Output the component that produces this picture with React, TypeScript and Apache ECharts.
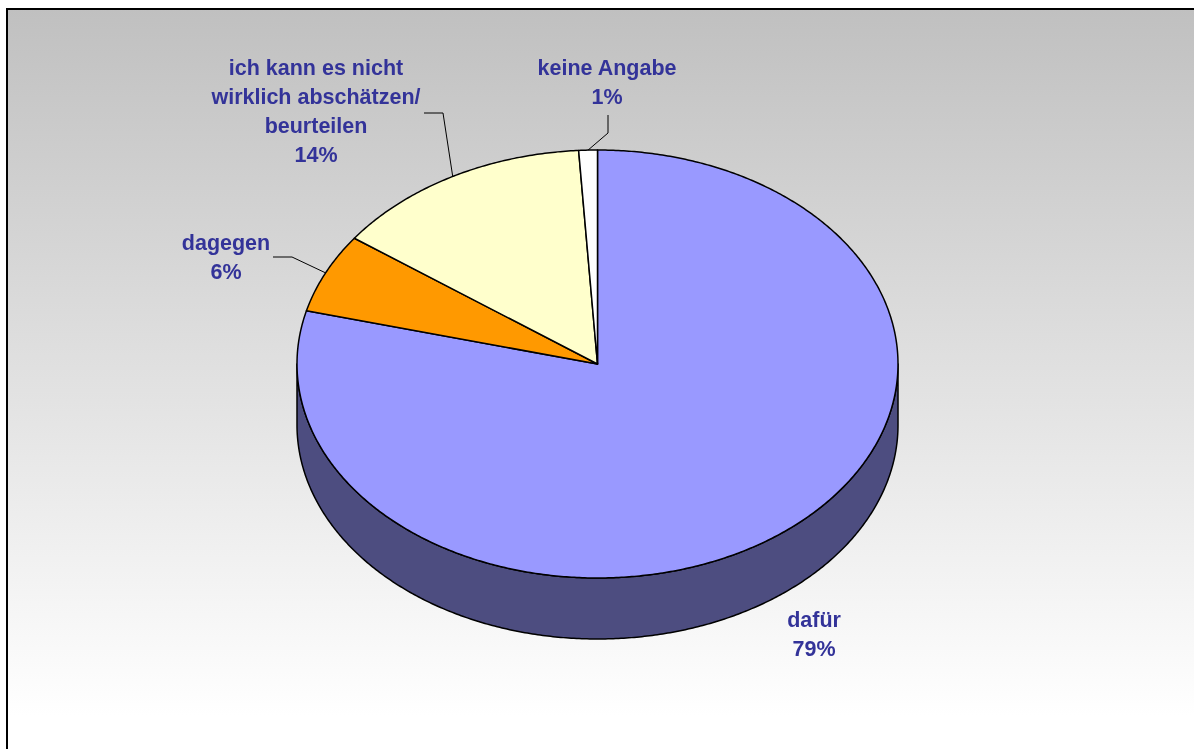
import { useEffect, useRef } from "react";
import * as echarts from "echarts";

// ---- data ----
const categories = [
  "dafür",
  "dagegen",
  "ich kann es nicht\nwirklich abschätzen/\nbeurteilen",
  "keine Angabe",
];
const values = [79, 6, 14, 1];
const topColors = ["#9999FF", "#FF9900", "#FFFFCC", "#FFFFFF"];
const sideColors = ["#4D4D80", "#804D00", "#808066", "#808080"];

// ---- layout (style) ----
const CX = 597.5;
const CY = 364;
const RX = 300.5;
const RY = 214;
const DEPTH = 61;
const LINE_H = 29;
const labelLayout: { x: number; y: number; line: number[][] | null }[] = [
  { x: 814, y: 620, line: null },
  { x: 226, y: 243, line: [[273, 257], [292, 257]] },
  { x: 316, y: 68, line: [[424, 113], [443, 113]] },
  { x: 607, y: 68, line: [[608, 115], [608, 133]] },
];

const total = values.reduce((a, b) => a + b, 0);
const starts: number[] = [];
const ends: number[] = [];
{
  let cum = 0;
  for (const v of values) {
    starts.push(90 - (cum / total) * 360);
    cum += v;
    ends.push(90 - (cum / total) * 360);
  }
}

function pt(deg: number, dy = 0): number[] {
  const r = (deg * Math.PI) / 180;
  return [CX + RX * Math.cos(r), CY - RY * Math.sin(r) + dy];
}
function arc(a0: number, a1: number, dy = 0): number[][] {
  const n = Math.max(2, Math.ceil(Math.abs(a1 - a0) / 0.5));
  const out: number[][] = [];
  for (let k = 0; k <= n; k++) out.push(pt(a0 + ((a1 - a0) * k) / n, dy));
  return out;
}

const FONT_FAMILY = 'Arial, "Liberation Sans", sans-serif';

export default function App() {
  const ref = useRef<HTMLDivElement>(null);
  useEffect(() => {
    if (!ref.current) return;
    const chart = echarts.init(ref.current, null, { renderer: "svg" });
    const data = values.map((v, i) => ({ name: categories[i], value: v }));
    chart.setOption({
      animation: false,
      graphic: [
        {
          type: "rect",
          z: -10,
          shape: { x: 7, y: 9, width: 1194, height: 760 },
          style: {
            fill: new echarts.graphic.LinearGradient(0, 0, 0, 1, [
              { offset: 0, color: "#C0C0C0" },
              { offset: 0.93, color: "#FFFFFF" },
              { offset: 1, color: "#FFFFFF" },
            ]),
          },
        },
        {
          type: "polyline",
          z: -9,
          shape: { points: [[7, 760], [7, 9], [1194, 9]] },
          style: { stroke: "#000000", lineWidth: 2, fill: "none" },
        },
      ],
      series: [
        {
          type: "custom",
          coordinateSystem: "none",
          z: 1,
          data,
          renderItem: (params: any, api: any) => {
            const i = params.dataIndex;
            api.value(0);
            const s = starts[i];
            const e = ends[i];
            const children: any[] = [];
            for (let k = -2; k <= 1; k++) {
              const lo = Math.max(e, -180 + 360 * k);
              const hi = Math.min(s, 360 * k);
              if (lo < hi) {
                const pts = arc(hi, lo, 0).concat(arc(lo, hi, DEPTH));
                children.push({
                  type: "polygon",
                  shape: { points: pts },
                  style: { fill: sideColors[i], stroke: "#000", lineWidth: 1.5, lineJoin: "round" },
                });
              }
            }
            return { type: "group", children };
          },
        },
        {
          type: "custom",
          coordinateSystem: "none",
          z: 2,
          data,
          renderItem: (params: any, api: any) => {
            const i = params.dataIndex;
            api.value(0);
            const pts = [[CX, CY]].concat(arc(starts[i], ends[i], 0));
            return {
              type: "polygon",
              shape: { points: pts },
              style: { fill: topColors[i], stroke: "#000", lineWidth: 1.5, lineJoin: "round" },
            };
          },
        },
        {
          type: "custom",
          coordinateSystem: "none",
          z: 3,
          data,
          renderItem: (params: any, api: any) => {
            const i = params.dataIndex;
            const v = api.value(0);
            const L = labelLayout[i];
            const pct = Math.round((v / total) * 100) + "%";
            const children: any[] = [
              {
                type: "text",
                style: {
                  text: categories[i] + "\n" + pct,
                  x: L.x,
                  y: L.y - LINE_H / 2,
                  fill: "#333399",
                  fontSize: 21.5,
                  fontWeight: "bold",
                  fontFamily: FONT_FAMILY,
                  lineHeight: LINE_H,
                  align: "center",
                  textAlign: "center",
                  verticalAlign: "top",
                  textVerticalAlign: "top",
                },
              },
            ];
            if (L.line) {
              const mid = (starts[i] + ends[i]) / 2;
              children.push({
                type: "polyline",
                shape: { points: L.line.concat([pt(mid)]) },
                style: { stroke: "#000", lineWidth: 1, fill: "none" },
              });
            }
            return { type: "group", children };
          },
        },
      ],
    });
    return () => chart.dispose();
  }, []);
  return (
    <div
      ref={ref}
      style={{ position: "fixed", left: 0, top: 0, width: 1194, height: 749 }}
    />
  );
}
